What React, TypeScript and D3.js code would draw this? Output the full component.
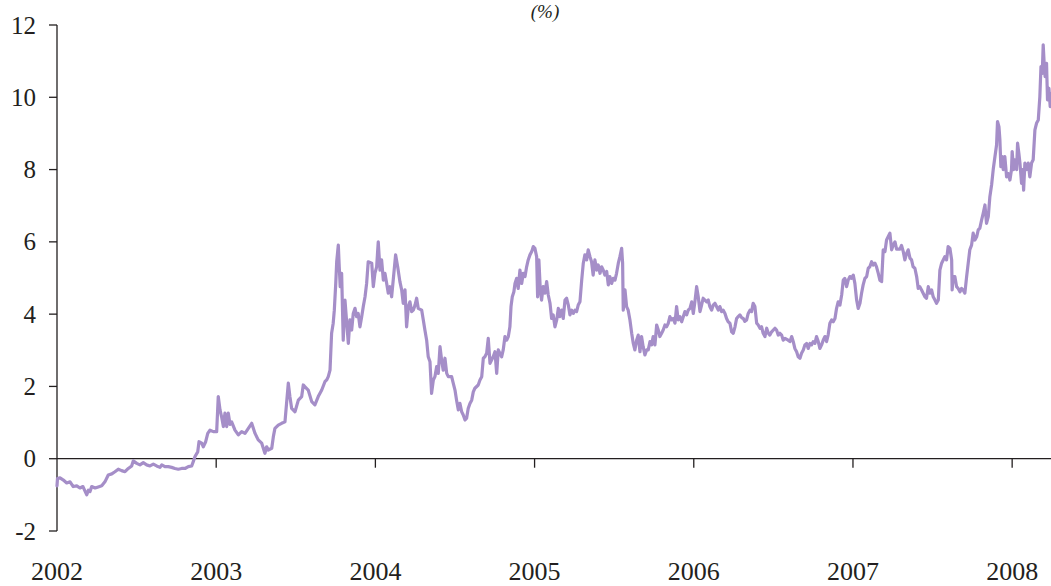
import React from "react";
import * as d3 from "d3";

const yTickValues = [-2, 0, 2, 4, 6, 8, 10, 12];
const xTickYears = [2002, 2003, 2004, 2005, 2006, 2007, 2008];
const titleText = "(%)";

const series2002: [number, number][] = [[2002.000,-0.75],[2002.003,-0.55],[2002.019,-0.53],[2002.040,-0.59],[2002.061,-0.67],[2002.082,-0.64],[2002.102,-0.77],[2002.124,-0.75],[2002.144,-0.81],[2002.163,-0.77],[2002.187,-1.00],[2002.197,-0.87],[2002.207,-0.91],[2002.218,-0.77],[2002.239,-0.81],[2002.259,-0.78],[2002.281,-0.75],[2002.301,-0.64],[2002.322,-0.45],[2002.344,-0.42],[2002.364,-0.36],[2002.385,-0.29],[2002.406,-0.33],[2002.427,-0.36],[2002.448,-0.27],[2002.469,-0.20],[2002.479,-0.06],[2002.501,-0.13],[2002.521,-0.17],[2002.542,-0.11],[2002.563,-0.17],[2002.584,-0.20],[2002.605,-0.15],[2002.626,-0.20],[2002.647,-0.24],[2002.658,-0.17],[2002.678,-0.22],[2002.699,-0.22],[2002.720,-0.24],[2002.741,-0.27],[2002.762,-0.29],[2002.783,-0.27],[2002.804,-0.27],[2002.825,-0.22],[2002.846,-0.20],[2002.856,-0.08],[2002.867,0.06],[2002.884,0.19],[2002.892,0.47],[2002.909,0.43],[2002.919,0.33],[2002.934,0.47],[2002.947,0.70],[2002.961,0.79],[2002.982,0.75]];

const series2003: [number, number][] = [[2003.003,0.75],[2003.013,1.72],[2003.024,1.35],[2003.034,1.16],[2003.045,0.89],[2003.055,1.26],[2003.066,0.89],[2003.076,1.26],[2003.087,0.95],[2003.097,1.02],[2003.118,0.79],[2003.139,0.66],[2003.160,0.75],[2003.181,0.70],[2003.202,0.84],[2003.223,0.98],[2003.244,0.70],[2003.264,0.52],[2003.286,0.43],[2003.306,0.15],[2003.317,0.33],[2003.327,0.24],[2003.349,0.29],[2003.359,0.61],[2003.369,0.84],[2003.390,0.93],[2003.411,0.98],[2003.432,1.02],[2003.453,2.09],[2003.463,1.72],[2003.474,1.39],[2003.495,1.30],[2003.516,1.62],[2003.537,1.72],[2003.547,2.04],[2003.558,1.99],[2003.578,1.90],[2003.600,1.58],[2003.620,1.49],[2003.641,1.72],[2003.663,1.90],[2003.683,2.13],[2003.694,2.18],[2003.704,2.27],[2003.715,2.45],[2003.725,3.47],[2003.735,3.75],[2003.742,4.11],[2003.751,4.85],[2003.757,5.45],[2003.767,5.91],[2003.773,5.31],[2003.779,4.76],[2003.788,5.13],[2003.798,3.28],[2003.809,4.39],[2003.820,3.75],[2003.830,3.19],[2003.840,3.84],[2003.851,3.56],[2003.861,4.02],[2003.872,4.16],[2003.882,3.93],[2003.892,4.02],[2003.903,3.65],[2003.914,3.93],[2003.924,4.21],[2003.935,4.48],[2003.945,4.85],[2003.955,5.45],[2003.977,5.41],[2003.987,4.76],[2003.997,5.13]];

const series2004: [number, number][] = [[2004.008,5.31],[2004.018,6.00],[2004.029,5.22],[2004.039,5.50],[2004.050,4.94],[2004.060,5.13],[2004.071,4.85],[2004.081,4.58],[2004.092,4.76],[2004.102,4.48],[2004.112,4.94],[2004.127,5.64],[2004.140,5.31],[2004.154,4.90],[2004.165,4.67],[2004.175,4.30],[2004.186,4.67],[2004.196,3.65],[2004.207,4.21],[2004.217,4.34],[2004.228,4.07],[2004.238,4.11],[2004.249,4.25],[2004.259,4.44],[2004.269,4.16],[2004.291,4.11],[2004.301,3.84],[2004.311,3.56],[2004.322,3.28],[2004.332,2.82],[2004.343,2.68],[2004.353,1.81],[2004.364,2.18],[2004.374,2.27],[2004.385,2.55],[2004.395,2.36],[2004.406,3.10],[2004.416,2.73],[2004.426,2.45],[2004.437,2.78],[2004.448,2.36],[2004.458,2.27],[2004.479,2.27],[2004.489,2.09],[2004.500,1.90],[2004.510,1.62],[2004.521,1.35],[2004.531,1.53],[2004.542,1.30],[2004.552,1.21],[2004.563,1.07],[2004.573,1.12],[2004.583,1.39],[2004.594,1.53],[2004.605,1.62],[2004.615,1.85],[2004.625,1.95],[2004.646,2.04],[2004.657,2.18],[2004.668,2.27],[2004.678,2.78],[2004.688,2.82],[2004.699,2.92],[2004.709,3.33],[2004.720,2.64],[2004.730,2.73],[2004.740,2.82],[2004.751,2.96],[2004.762,2.36],[2004.772,3.01],[2004.782,2.92],[2004.793,2.82],[2004.803,3.01],[2004.814,3.38],[2004.825,3.28],[2004.835,3.38],[2004.845,3.65],[2004.852,4.21],[2004.860,4.48],[2004.870,4.62],[2004.877,4.85],[2004.887,4.99],[2004.897,4.71],[2004.908,5.22],[2004.919,4.85],[2004.929,5.13],[2004.940,5.04],[2004.950,5.31],[2004.960,5.50],[2004.971,5.64],[2004.982,5.73],[2004.992,5.87]];

const series2005: [number, number][] = [[2005.002,5.82],[2005.013,5.59],[2005.019,4.48],[2005.027,5.50],[2005.036,4.67],[2005.044,4.39],[2005.054,4.76],[2005.065,4.58],[2005.076,4.90],[2005.086,4.53],[2005.097,4.30],[2005.107,3.88],[2005.117,3.98],[2005.128,3.65],[2005.139,3.84],[2005.149,4.16],[2005.159,3.93],[2005.170,4.11],[2005.180,3.88],[2005.191,4.39],[2005.201,4.44],[2005.212,4.25],[2005.222,3.98],[2005.233,4.11],[2005.243,4.02],[2005.254,4.11],[2005.264,4.07],[2005.274,4.25],[2005.285,4.34],[2005.296,4.94],[2005.306,5.41],[2005.316,5.64],[2005.327,5.50],[2005.337,5.78],[2005.348,5.59],[2005.358,5.45],[2005.368,5.08],[2005.379,5.50],[2005.390,5.22],[2005.400,5.36],[2005.411,5.13],[2005.421,5.31],[2005.431,5.22],[2005.442,5.08],[2005.453,5.18],[2005.463,4.81],[2005.473,5.04],[2005.484,4.85],[2005.494,4.99],[2005.505,4.94],[2005.515,5.13],[2005.526,5.41],[2005.536,5.59],[2005.547,5.82],[2005.553,5.41],[2005.557,4.11],[2005.568,4.67],[2005.578,4.21],[2005.588,4.11],[2005.599,3.84],[2005.610,3.47],[2005.620,3.19],[2005.630,3.01],[2005.641,3.28],[2005.651,3.42],[2005.662,2.96],[2005.672,3.38],[2005.682,3.10],[2005.693,2.87],[2005.704,3.01],[2005.714,3.01],[2005.725,3.24],[2005.735,3.15],[2005.745,3.38],[2005.756,3.15],[2005.767,3.70],[2005.777,3.56],[2005.787,3.38],[2005.798,3.47],[2005.808,3.56],[2005.819,3.70],[2005.829,3.65],[2005.840,3.75],[2005.850,3.93],[2005.861,3.84],[2005.871,3.88],[2005.882,3.75],[2005.892,4.21],[2005.902,3.84],[2005.913,3.93],[2005.924,3.79],[2005.934,3.93],[2005.944,4.07],[2005.955,3.98],[2005.965,4.11],[2005.976,4.16],[2005.987,4.34],[2005.997,4.02]];

const series2006: [number, number][] = [[2006.007,4.34],[2006.018,4.76],[2006.028,4.48],[2006.039,4.07],[2006.049,4.25],[2006.059,4.44],[2006.070,4.39],[2006.081,4.34],[2006.091,4.39],[2006.101,4.21],[2006.112,4.11],[2006.122,4.25],[2006.133,4.30],[2006.143,4.21],[2006.154,4.11],[2006.164,4.21],[2006.175,4.07],[2006.185,4.11],[2006.196,4.02],[2006.206,3.88],[2006.216,3.79],[2006.227,3.75],[2006.238,3.51],[2006.248,3.47],[2006.259,3.65],[2006.269,3.88],[2006.279,3.93],[2006.290,3.98],[2006.301,3.90],[2006.311,3.88],[2006.321,3.80],[2006.332,3.84],[2006.342,4.02],[2006.353,4.11],[2006.363,4.07],[2006.373,4.30],[2006.384,4.21],[2006.395,3.75],[2006.405,3.70],[2006.416,3.61],[2006.426,3.65],[2006.436,3.47],[2006.447,3.38],[2006.458,3.61],[2006.468,3.47],[2006.478,3.42],[2006.489,3.51],[2006.510,3.61],[2006.520,3.56],[2006.531,3.42],[2006.541,3.47],[2006.552,3.42],[2006.562,3.28],[2006.573,3.33],[2006.593,3.28],[2006.604,3.24],[2006.615,3.38],[2006.625,3.24],[2006.635,3.05],[2006.646,2.96],[2006.656,2.82],[2006.667,2.78],[2006.677,2.92],[2006.688,3.01],[2006.698,3.15],[2006.709,3.19],[2006.719,3.05],[2006.730,3.19],[2006.740,3.15],[2006.750,3.24],[2006.761,3.19],[2006.771,3.38],[2006.782,3.24],[2006.792,3.05],[2006.803,3.15],[2006.813,3.28],[2006.824,3.38],[2006.834,3.24],[2006.844,3.42],[2006.855,3.75],[2006.866,3.84],[2006.876,3.79],[2006.887,3.88],[2006.897,4.16],[2006.907,4.34],[2006.918,4.25],[2006.929,4.53],[2006.939,4.94],[2006.949,4.99],[2006.960,4.76],[2006.970,4.94],[2006.981,5.04],[2006.991,4.99]];

const series2007: [number, number][] = [[2007.002,5.08],[2007.012,4.85],[2007.023,4.39],[2007.033,4.16],[2007.044,4.30],[2007.054,4.58],[2007.064,4.81],[2007.075,4.99],[2007.086,5.04],[2007.096,5.27],[2007.106,5.31],[2007.117,5.45],[2007.127,5.36],[2007.138,5.41],[2007.148,5.31],[2007.159,5.13],[2007.169,4.94],[2007.180,4.90],[2007.190,5.78],[2007.201,5.73],[2007.211,6.05],[2007.221,6.14],[2007.232,6.24],[2007.243,5.78],[2007.253,5.91],[2007.264,6.00],[2007.274,5.80],[2007.284,5.80],[2007.295,5.80],[2007.305,5.90],[2007.316,5.73],[2007.326,5.50],[2007.337,5.68],[2007.347,5.78],[2007.358,5.55],[2007.368,5.50],[2007.378,5.31],[2007.389,5.27],[2007.400,5.04],[2007.410,4.71],[2007.420,4.76],[2007.431,4.67],[2007.441,4.58],[2007.452,4.48],[2007.462,4.44],[2007.473,4.76],[2007.483,4.58],[2007.494,4.67],[2007.504,4.48],[2007.515,4.39],[2007.525,4.30],[2007.536,4.39],[2007.546,5.22],[2007.557,5.41],[2007.567,5.50],[2007.577,5.59],[2007.588,5.50],[2007.598,5.87],[2007.609,5.82],[2007.620,5.50],[2007.623,4.67],[2007.630,5.04],[2007.640,5.04],[2007.651,4.76],[2007.661,4.71],[2007.672,4.62],[2007.682,4.71],[2007.692,4.67],[2007.703,4.58],[2007.714,5.04],[2007.724,5.41],[2007.734,5.78],[2007.745,5.91],[2007.755,6.24],[2007.766,6.05],[2007.777,6.14],[2007.787,6.33],[2007.797,6.38],[2007.808,6.60],[2007.818,6.79],[2007.829,7.02],[2007.839,6.51],[2007.850,6.70],[2007.860,7.25],[2007.871,7.58],[2007.881,8.00],[2007.892,8.36],[2007.902,8.68],[2007.908,9.33],[2007.917,9.19],[2007.923,8.82],[2007.929,8.08],[2007.937,8.36],[2007.944,8.00],[2007.954,8.36],[2007.965,7.80],[2007.975,7.89],[2007.986,7.71],[2007.996,8.00]];

const series2008: [number, number][] = [[2008.000,8.50],[2008.009,8.00],[2008.017,8.27],[2008.028,8.00],[2008.034,8.73],[2008.042,8.45],[2008.049,8.18],[2008.059,7.62],[2008.066,8.00],[2008.072,7.43],[2008.080,8.18],[2008.091,8.00],[2008.101,8.18],[2008.111,7.80],[2008.122,8.18],[2008.132,8.27],[2008.143,9.10],[2008.153,9.28],[2008.164,9.37],[2008.174,10.02],[2008.181,10.85],[2008.189,10.66],[2008.195,11.45],[2008.201,10.94],[2008.207,10.57],[2008.216,10.94],[2008.222,9.93],[2008.231,10.25],[2008.239,9.74],[2008.244,10.10]];

const allSeries = [series2002, series2003, series2004, series2005, series2006, series2007, series2008];

const W = 1051;
const H = 586;
const FONT = "'Liberation Serif', 'Times New Roman', serif";

export default function App() {
  const data = allSeries.flat();
  const x = d3.scaleLinear().domain([2002, 2008.244]).range([57, 1051]);
  const y = d3.scaleLinear().domain([-2, 12]).range([531, 25]);
  const line = d3
    .line<[number, number]>()
    .x((d) => x(d[0]))
    .y((d) => y(d[1]));
  const axisColor = "#231f20";
  const y0 = y(0);

  return (
    <svg
      width={W}
      height={H}
      viewBox={`0 0 ${W} ${H}`}
      style={{ position: "absolute", left: 0, top: 0, display: "block", background: "#fff" }}
    >
      <text
        x={545}
        y={18}
        textAnchor="middle"
        fontFamily={FONT}
        fontStyle="italic"
        fontSize={19}
        fill="#231f20"
      >
        {titleText}
      </text>

      {/* y axis */}
      <line x1={x(2002)} x2={x(2002)} y1={y(12)} y2={y(-2)} stroke={axisColor} strokeWidth={1.3} />
      {yTickValues.map((v) => (
        <g key={v}>
          <line x1={x(2002) - 8} x2={x(2002)} y1={y(v)} y2={y(v)} stroke={axisColor} strokeWidth={1.3} />
          <text
            x={36}
            y={y(v)}
            dy="0.34em"
            textAnchor="end"
            fontFamily={FONT}
            fontSize={25}
            fill="#231f20"
          >
            {v}
          </text>
        </g>
      ))}

      {/* x axis at zero */}
      <line x1={x(2002)} x2={W} y1={y0} y2={y0} stroke={axisColor} strokeWidth={1.3} />
      {xTickYears.map((yr) => (
        <g key={yr}>
          {yr > 2002 && (
            <line x1={x(yr)} x2={x(yr)} y1={y0} y2={y0 + 9} stroke={axisColor} strokeWidth={1.3} />
          )}
          <text
            x={x(yr)}
            y={580}
            textAnchor="middle"
            fontFamily={FONT}
            fontSize={26}
            fill="#231f20"
          >
            {yr}
          </text>
        </g>
      ))}

      <path
        d={line(data) || ""}
        fill="none"
        stroke="#a58ec8"
        strokeWidth={3.2}
        strokeLinejoin="round"
        strokeLinecap="round"
      />
    </svg>
  );
}
